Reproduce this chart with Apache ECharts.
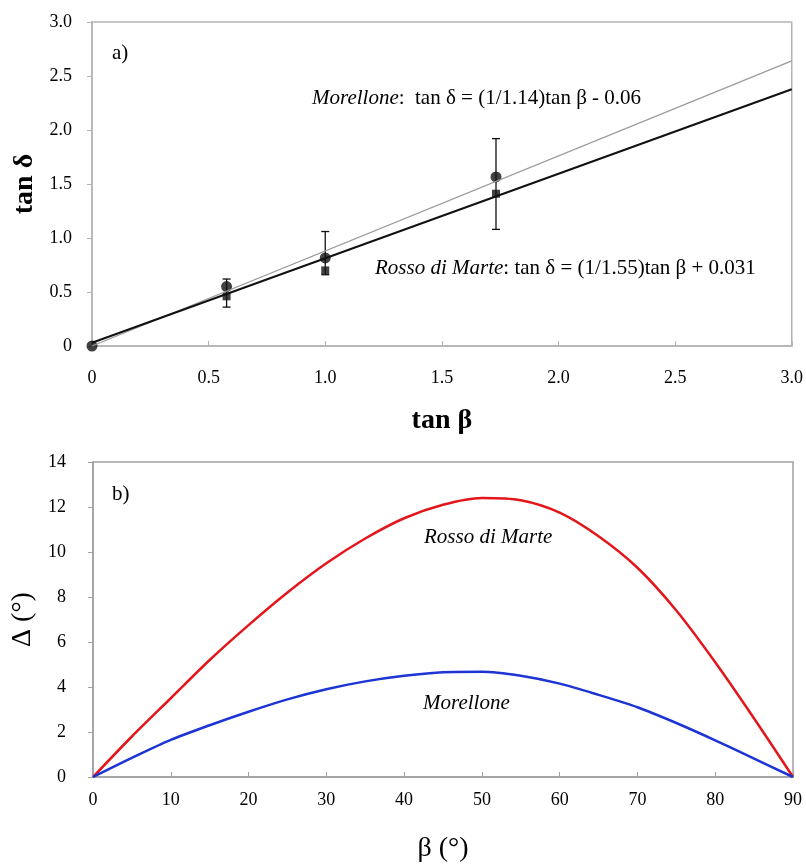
<!DOCTYPE html>
<html><head><meta charset="utf-8">
<script src="https://cdn.jsdelivr.net/npm/echarts@6/dist/echarts.min.js"></script>
<style>html,body{margin:0;padding:0;background:#fff}#c{width:806px;height:865px}</style>
</head><body><div id="c"></div>
<script>
// ---- Panel a) data ----
const fitMorellone = [[0, 0.0], [3, 2.64]];      // grey line
const fitRosso = [[0, 0.03], [3, 2.377]];        // black line
const circlePts = [[0, 0], [0.577, 0.55], [1.0, 0.815], [1.732, 1.565]];
const squarePts = [[0.577, 0.46], [1.0, 0.70], [1.732, 1.41]];
const errX = [0.577, 1.0, 1.732];
const errLow = [0.36, 0.66, 1.08];
const errHigh = [0.62, 1.06, 1.92];

// ---- Panel b) data ----
const beta = [0, 5, 10, 15, 20, 25, 30, 35, 40, 45, 50, 55, 60, 65, 70, 75, 80, 85, 90];
const deltaRosso = [0, 1.8, 3.5, 5.2, 6.75, 8.2, 9.5, 10.6, 11.5, 12.1, 12.4, 12.3, 11.75, 10.7, 9.3, 7.4, 5.1, 2.6, 0];
const deltaMorellone = [0, 0.85, 1.65, 2.3, 2.9, 3.45, 3.9, 4.25, 4.5, 4.66, 4.68, 4.5, 4.15, 3.65, 3.1, 2.4, 1.63, 0.82, 0];

const F = '"Liberation Serif", "Times New Roman", serif';
const axisCol = '#b4b4b4';
const axisCol2 = '#a0a0a0';
const errData = errX.map((x, i) => [x, errLow[i], errHigh[i]]);
const zip = (a, b) => a.map((v, i) => [v, b[i]]);

const chart = echarts.init(document.getElementById('c'));
const fmt1 = v => v === 0 ? '0' : v.toFixed(1);

chart.setOption({
  animation: false,
  grid: [
    {left: 92, right: 13, top: 22, height: 324, show: true, borderColor: axisCol, borderWidth: 1.5, backgroundColor: 'transparent'},
    {left: 93, right: 13, top: 462, height: 315, show: true, borderColor: axisCol2, borderWidth: 1.5, backgroundColor: 'transparent'}
  ],
  xAxis: [
    {gridIndex: 0, type: 'value', min: 0, max: 3, interval: 0.5,
     name: 'tan β', nameLocation: 'middle', nameGap: 61,
     nameTextStyle: {fontFamily: F, fontSize: 28, fontWeight: 'bold', color: '#000'},
     axisLine: {lineStyle: {color: axisCol, width: 1.5}},
     axisTick: {show: true, inside: true, length: 5, lineStyle: {color: axisCol}},
     axisLabel: {formatter: fmt1, fontFamily: F, fontSize: 18, color: '#000', margin: 23},
     splitLine: {show: false}},
    {gridIndex: 1, type: 'value', min: 0, max: 90, interval: 10,
     name: 'β (°)', nameLocation: 'middle', nameGap: 58,
     nameTextStyle: {fontFamily: F, fontSize: 28, color: '#000'},
     axisLine: {lineStyle: {color: axisCol2, width: 1.5}},
     axisTick: {show: true, inside: true, length: 5, lineStyle: {color: axisCol2}},
     axisLabel: {fontFamily: F, fontSize: 18, color: '#000', margin: 14},
     splitLine: {show: false}}
  ],
  yAxis: [
    {gridIndex: 0, type: 'value', min: 0, max: 3, interval: 0.5,
     name: 'tan δ', nameLocation: 'middle', nameGap: 48,
     nameTextStyle: {fontFamily: F, fontSize: 28, fontWeight: 'bold', color: '#000'},
     axisLine: {lineStyle: {color: axisCol, width: 1.5}},
     axisTick: {show: true, length: 5, lineStyle: {color: axisCol}},
     axisLabel: {formatter: fmt1, fontFamily: F, fontSize: 18, color: '#000', margin: 20},
     splitLine: {show: false}},
    {gridIndex: 1, type: 'value', min: 0, max: 14, interval: 2,
     name: 'Δ (°)', nameLocation: 'middle', nameGap: 51,
     nameTextStyle: {fontFamily: F, fontSize: 28, color: '#000'},
     axisLine: {lineStyle: {color: axisCol2, width: 1.5}},
     axisTick: {show: true, length: 5, lineStyle: {color: axisCol2}},
     axisLabel: {fontFamily: F, fontSize: 18, color: '#000', margin: 27},
     splitLine: {show: false}}
  ],
  series: [
    {type: 'line', xAxisIndex: 0, yAxisIndex: 0, data: fitMorellone, symbol: 'none',
     lineStyle: {color: '#9a9a9a', width: 1.3}},
    {type: 'line', xAxisIndex: 0, yAxisIndex: 0, data: fitRosso, symbol: 'none',
     lineStyle: {color: '#111', width: 2}},
    {type: 'custom', xAxisIndex: 0, yAxisIndex: 0, data: errData,
     encode: {x: 0, y: [1, 2]},
     renderItem: (params, api) => {
       const x = api.value(0);
       const p1 = api.coord([x, api.value(1)]);
       const p2 = api.coord([x, api.value(2)]);
       const st = {stroke: '#111', lineWidth: 1.3};
       return {type: 'group', children: [
         {type: 'line', shape: {x1: p1[0], y1: p1[1], x2: p2[0], y2: p2[1]}, style: st},
         {type: 'line', shape: {x1: p1[0] - 4, y1: p1[1], x2: p1[0] + 4, y2: p1[1]}, style: st},
         {type: 'line', shape: {x1: p2[0] - 4, y1: p2[1], x2: p2[0] + 4, y2: p2[1]}, style: st}
       ]};
     }},
    {type: 'scatter', xAxisIndex: 0, yAxisIndex: 0, data: squarePts, symbol: 'rect', symbolSize: 8,
     itemStyle: {color: '#111'}},
    {type: 'scatter', xAxisIndex: 0, yAxisIndex: 0, data: circlePts, symbol: 'circle', symbolSize: 11,
     itemStyle: {color: '#111'}},
    {type: 'line', xAxisIndex: 1, yAxisIndex: 1, data: zip(beta, deltaRosso), smooth: 0.3, symbol: 'none',
     lineStyle: {color: '#e3161b', width: 2.5}},
    {type: 'line', xAxisIndex: 1, yAxisIndex: 1, data: zip(beta, deltaMorellone), smooth: 0.3, symbol: 'none',
     lineStyle: {color: '#1c35d4', width: 2.5}}
  ],
  graphic: [
    {type: 'text', left: 112, top: 43, style: {text: 'a)', font: '21px ' + F, fill: '#000'}},
    {type: 'text', left: 312, top: 88, style: {
      text: '{i|Morellone}:  tan δ = (1/1.14)tan β - 0.06',
      font: '21px ' + F, fill: '#000',
      rich: {i: {fontStyle: 'italic', fontFamily: F, fontSize: 21}}}},
    {type: 'text', left: 375, top: 258, style: {
      text: '{i|Rosso di Marte}: tan δ = (1/1.55)tan β + 0.031',
      font: '21px ' + F, fill: '#000',
      rich: {i: {fontStyle: 'italic', fontFamily: F, fontSize: 21}}}},
    {type: 'text', left: 112, top: 484, style: {text: 'b)', font: '21px ' + F, fill: '#000'}},
    {type: 'text', left: 424, top: 527, style: {text: 'Rosso di Marte', font: 'italic 21px ' + F, fill: '#000'}},
    {type: 'text', left: 423, top: 693, style: {text: 'Morellone', font: 'italic 21px ' + F, fill: '#000'}}
  ]
});
</script></body></html>
